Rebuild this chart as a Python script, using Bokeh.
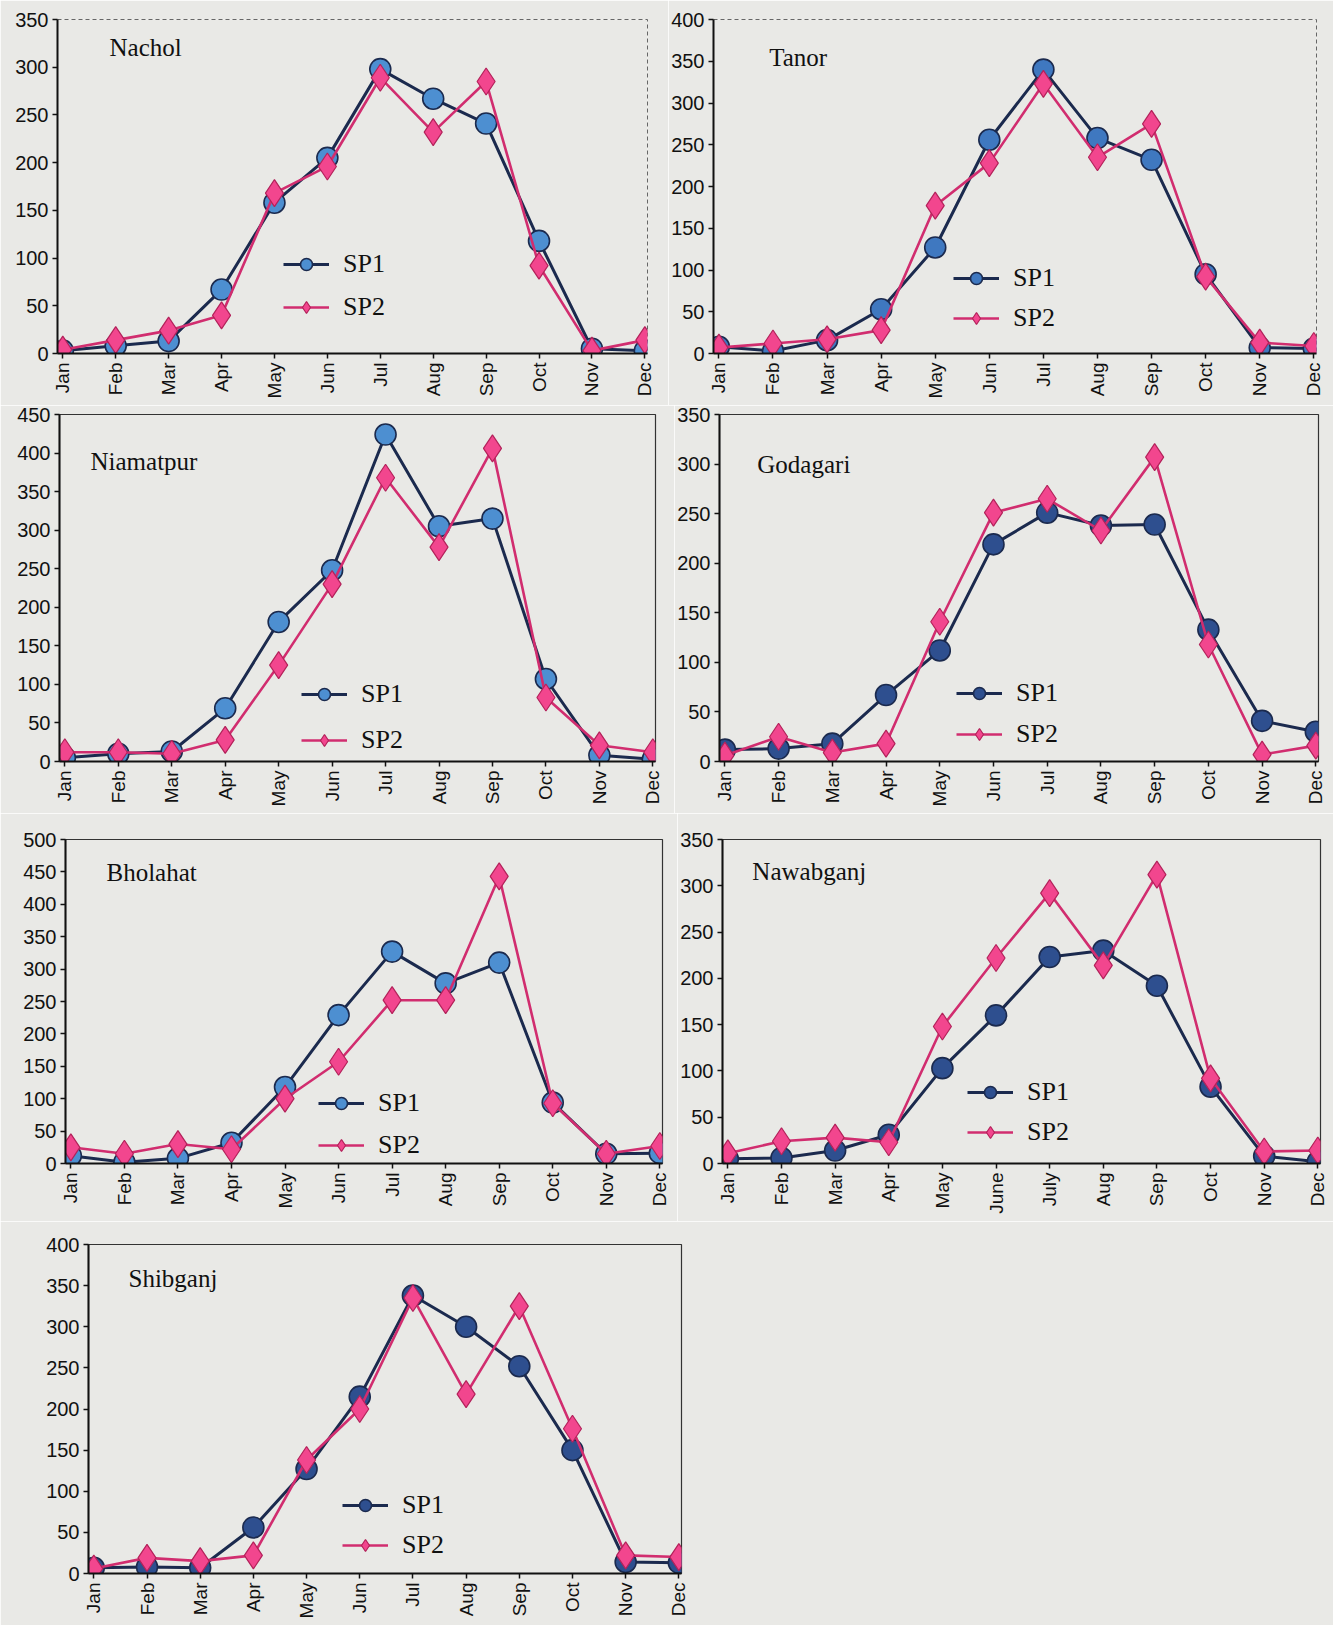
import math
from bokeh.plotting import figure
from bokeh.layouts import column, row
from bokeh.models import Range1d, FixedTicker, Legend, LegendItem, Label
from bokeh.embed import file_html
from bokeh.resources import INLINE

months = ["Jan", "Feb", "Mar", "Apr", "May", "Jun", "Jul", "Aug", "Sep", "Oct", "Nov", "Dec"]
months_nawabganj = ["Jan", "Feb", "Mar", "Apr", "May", "June", "July", "Aug", "Sep", "Oct", "Nov", "Dec"]

nachol_sp1 = [3, 8, 13, 67, 158, 205, 298, 267, 241, 118, 5, 3]
nachol_sp2 = [4, 14, 24, 40, 168, 196, 289, 232, 285, 92, 3, 14]

tanor_sp1 = [8, 3, 16, 53, 127, 256, 340, 258, 232, 95, 7, 6]
tanor_sp2 = [7, 12, 17, 28, 177, 228, 323, 235, 275, 92, 13, 9]

niamatpur_sp1 = [5, 10, 13, 69, 181, 248, 424, 305, 315, 107, 8, 3]
niamatpur_sp2 = [12, 12, 10, 28, 125, 230, 368, 278, 406, 83, 21, 12]

godagari_sp1 = [12, 13, 18, 67, 112, 219, 251, 238, 239, 133, 41, 30]
godagari_sp2 = [6, 25, 9, 18, 141, 251, 265, 233, 307, 118, 7, 16]

bholahat_sp1 = [12, 2, 8, 32, 118, 229, 327, 278, 310, 94, 15, 16]
bholahat_sp2 = [25, 15, 30, 22, 100, 157, 252, 252, 443, 93, 15, 27]

nawabganj_sp1 = [5, 6, 14, 31, 103, 160, 223, 230, 192, 83, 8, 2]
nawabganj_sp2 = [11, 24, 28, 23, 148, 222, 292, 214, 312, 92, 13, 14]

shibganj_sp1 = [7, 8, 7, 56, 127, 215, 338, 300, 252, 150, 14, 13]
shibganj_sp2 = [6, 19, 15, 22, 138, 200, 335, 218, 325, 176, 22, 20]

BG = "#e9e9e6"
X0, X1 = -0.1, 11.05
GH = 30


def make_panel(name, sp1, sp2, ymax, labels, width, height, ml, mr, mt, mb,
               title_dx, title_dy, leg_x, leg_y, leg_pitch, sp1_fill, dashed):
    p = figure(width=width, height=height, output_backend="svg", toolbar_location=None,
               x_range=Range1d(X0, X1), y_range=Range1d(0, ymax),
               min_border_left=ml, min_border_right=mr, min_border_top=mt, min_border_bottom=mb,
               background_fill_color=BG, border_fill_color=BG)
    fw = width - ml - mr
    fh = height - mt - mb
    xs = list(range(len(labels)))

    p.xgrid.visible = False
    p.ygrid.visible = False
    p.xaxis.ticker = FixedTicker(ticks=xs)
    p.xaxis.major_label_overrides = {i: lab for i, lab in enumerate(labels)}
    p.xaxis.major_label_orientation = math.pi / 2
    p.yaxis.ticker = FixedTicker(ticks=list(range(0, ymax + 1, 50)))
    for ax in (p.xaxis, p.yaxis):
        ax.axis_line_color = "#111111"
        ax.axis_line_width = 2
        ax.major_tick_line_color = "#111111"
        ax.major_tick_line_width = 1.5
        ax.major_tick_out = 5
        ax.major_tick_in = 0
        ax.minor_tick_line_color = None
        ax.major_label_text_font = "Liberation Sans"
        ax.major_label_text_color = "#111111"
        ax.major_label_standoff = 4
    p.yaxis.major_label_text_font_size = "20px"
    p.xaxis.major_label_text_font_size = "19px"

    if dashed:
        p.outline_line_color = "#666666"
        p.outline_line_dash = "4 3"
        p.outline_line_width = 1
    else:
        p.outline_line_color = "#333333"
        p.outline_line_width = 1.2

    l1 = p.line(xs, sp1, line_color="#1b2a4e", line_width=3)
    s1 = p.scatter(xs, sp1, marker="circle", size=21, fill_color=sp1_fill,
                   line_color="#1b2a4e", line_width=1.6)
    l2 = p.line(xs, sp2, line_color="#d12d6f", line_width=2.6)
    s2 = p.scatter(xs, sp2, marker="diamond", size=27, fill_color="#f2468e",
                   line_color="#b3225a", line_width=1.2)

    legend = Legend(items=[LegendItem(label="SP1", renderers=[l1, s1]),
                           LegendItem(label="SP2", renderers=[l2, s2])],
                    location=(leg_x, leg_y - GH // 2), orientation="vertical",
                    background_fill_alpha=0, border_line_alpha=0,
                    padding=0, margin=0, spacing=leg_pitch - GH,
                    glyph_width=46, glyph_height=GH, label_height=GH,
                    label_standoff=14, label_text_font="Liberation Serif",
                    label_text_font_size="26px", label_text_color="#111111")
    p.add_layout(legend)

    tx = X0 + title_dx * (X1 - X0) / fw
    ty = ymax - title_dy * ymax / fh
    p.add_layout(Label(x=tx, y=ty, text=name, text_font="Liberation Serif",
                       text_font_size="25px", text_color="#111111",
                       text_align="left", text_baseline="middle"))
    return p


LIGHT = "#4d8fd1"
DARK = "#2e4f8f"

# row 1: height 405, frame y 19..353
p1 = make_panel("Nachol", nachol_sp1, nachol_sp2, 350, months, 668, 405, 57, 21, 19, 52,
                52, 28, 226, 46, 43, LIGHT, True)
p2 = make_panel("Tanor", tanor_sp1, tanor_sp2, 400, months, 665, 405, 42, 17, 19, 52,
                56, 38, 240, 35, 40, "#3f78c0", True)
# row 2: height 408, frame y 414..761
p3 = make_panel("Niamatpur", niamatpur_sp1, niamatpur_sp2, 450, months, 674, 408, 59, 19, 9, 52,
                31, 47, 242, 21, 46, LIGHT, False)
p4 = make_panel("Godagari", godagari_sp1, godagari_sp2, 350, months, 659, 408, 42, 15, 9, 52,
                38, 50, 237, 27, 41, DARK, False)
# row 3: height 408, frame y 839..1163
p5 = make_panel("Bholahat", bholahat_sp1, bholahat_sp2, 500, months, 677, 408, 65, 15, 26, 58,
                41, 33, 253, 18, 42, LIGHT, False)
p6 = make_panel("Nawabganj", nawabganj_sp1, nawabganj_sp2, 350, months_nawabganj, 656, 408, 42, 13, 26, 58,
                30, 32, 245, 31, 40, DARK, False)
# row 4: height 404, frame y 1244..1573
p7 = make_panel("Shibganj", shibganj_sp1, shibganj_sp2, 400, months, 1333, 404, 88, 652, 23, 52,
                40, 34, 254, 28, 40, DARK, False)

layout = column(row(p1, p2), row(p3, p4), row(p5, p6), row(p7))
open("out.html", "w").write(file_html(layout, INLINE))
